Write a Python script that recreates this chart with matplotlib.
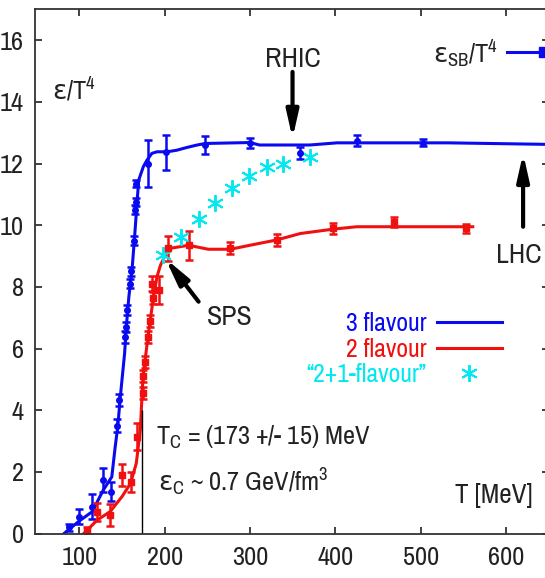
import matplotlib
matplotlib.use("Agg")
import matplotlib.pyplot as plt

plt.rcParams["font.family"] = ["Archivo Narrow", "DejaVu Sans"]
plt.rcParams["mathtext.fontset"] = "custom"
plt.rcParams["mathtext.rm"] = "Archivo Narrow"
plt.rcParams["mathtext.it"] = "Archivo Narrow"
plt.rcParams["mathtext.sf"] = "DejaVu Sans"
plt.rcParams["mathtext.default"] = "regular"

BLUE = "#0a0af0"
RED = "#f01010"
CYAN = "#00e8f0"
INK = "#222222"
EPS = r"$\mathsf{ε}$"

# 3 flavour lattice points (T [MeV], eps/T^4, error)
t3 = [87.5, 99, 115, 128, 137.5, 144, 147, 154, 155, 156, 159, 160.5, 163.6, 165.6, 166.5, 166,
      181, 202, 247.5, 299.5, 359, 425, 502.5]
e3 = [0.2, 0.55, 0.87, 1.74, 1.36, 3.5, 4.33, 6.38, 6.7, 7.25, 8.1, 8.5, 9.5, 10.5, 10.75, 11.35,
      12.0, 12.36, 12.6, 12.67, 12.33, 12.74, 12.68]
err3 = [0.1, 0.25, 0.4, 0.38, 0.3, 0.2, 0.2, 0.2, 0.15, 0.15, 0.15, 0.15, 0.15, 0.15, 0.12, 0.1,
        0.75, 0.57, 0.3, 0.17, 0.2, 0.17, 0.12]

# 3 flavour curve
t3_fit = [82, 99, 115, 128, 138, 142, 145, 148, 153, 155, 158, 162, 165, 167.5, 169.5, 175, 179, 185,
          191, 203, 214, 226, 238, 248, 300, 311, 370, 402, 532, 650]
e3_fit = [0, 0.39, 0.71, 1.41, 1.84, 2.82, 3.47, 4.44, 5.84, 6.7, 7.68, 8.65, 9.73, 10.7, 11.46, 11.9,
          12.1, 12.33, 12.38, 12.38, 12.43, 12.52, 12.6, 12.65, 12.68, 12.6, 12.6, 12.67, 12.67, 12.62]

# 2 flavour lattice points
t2 = [109, 121, 136, 150, 160.5, 167.5, 174.6, 175, 177.3, 180.4, 182.3, 185, 186.3, 193, 204,
      228, 276.8, 331.5, 397, 469, 553]
e2 = [0.1, 0.7, 0.6, 1.9, 1.68, 3.14, 4.55, 5.1, 5.57, 6.38, 6.9, 8.1, 7.63, 7.9, 9.25,
      9.35, 9.25, 9.52, 9.9, 10.1, 9.9]
err2 = [0.1, 0.3, 0.35, 0.35, 0.33, 0.43, 0.2, 0.2, 0.2, 0.2, 0.2, 0.25, 0.2, 0.45, 0.4,
        0.47, 0.2, 0.2, 0.18, 0.15, 0.15]

# 2 flavour curve
t2_fit = [105, 121, 136, 150, 160, 166.7, 171.4, 173.5, 174.6, 180.4, 186.3, 191, 195, 200.7, 206.6,
          228, 251, 277, 300, 331, 359, 397, 425, 561]
e2_fit = [0, 0.44, 0.71, 1.2, 1.63, 2.28, 3.36, 4.5, 5.09, 6.38, 7.57, 8.33, 8.7, 9.03, 9.25,
          9.35, 9.22, 9.22, 9.35, 9.52, 9.73, 9.87, 9.95, 9.95]

# "2+1 flavour" estimate
t21 = [198, 219, 240, 259, 279, 299, 320, 339, 370]
e21 = [9.03, 9.62, 10.2, 10.73, 11.2, 11.58, 11.89, 12.0, 12.2]

# Stefan-Boltzmann limit, critical temperature
eps_sb = 15.6
t_c = 173
t_c_line_top = 4.0

fig = plt.figure(figsize=(5.45, 5.78), dpi=100)
ax = fig.add_axes([35 / 545, 44.4 / 578, 513.7 / 545, 524.3 / 578])

ax.plot(t3_fit, e3_fit, color=BLUE, lw=2.2, label="3 flavour")
ax.errorbar(t3, e3, yerr=err3, fmt="o", color=BLUE, ms=4, elinewidth=1.8, capsize=3, capthick=1.8)

ax.plot(t2_fit, e2_fit, color=RED, lw=2.2, label="2 flavour")
ax.errorbar(t2, e2, yerr=err2, fmt="s", color=RED, ms=4, elinewidth=1.8, capsize=3, capthick=1.8)

ax.plot(t21, e21, ls="none", marker=(6, 2, 0), ms=12, mew=1.4, color=CYAN, label="\u201c2+1-flavour\u201d")

ax.vlines(t_c, 0, t_c_line_top, color="black", lw=1)

# SB key
ax.plot([601, 645], [eps_sb, eps_sb], color=BLUE, lw=2.2, marker="s", ms=7, markevery=[1], clip_on=False)
ax.text(590.6, 15.24, EPS + r"$_{SB}$/T$^4$", fontsize=19, color=INK, ha="right", va="baseline")

arrow = dict(arrowstyle="-|>,head_length=0.8,head_width=0.18", color="black", lw=3, mutation_scale=20,
             shrinkA=0, shrinkB=0)
ax.annotate("", xy=(349.8, 12.81), xytext=(349.8, 14.97), arrowprops=arrow)
ax.annotate("", xy=(620, 12.33), xytext=(620, 9.95), arrowprops=arrow)
ax.annotate("", xy=(200.7, 8.92), xytext=(239.7, 7.52), arrowprops=arrow)

ax.text(350.6, 15.13, "RHIC", fontsize=20, color=INK, ha="center", va="baseline")
ax.text(615.2, 8.77, "LHC", fontsize=20, color=INK, ha="center", va="baseline")
ax.text(249.9, 6.76, "SPS", fontsize=20, color=INK, ha="left", va="baseline")
ax.text(68.4, 14.05, EPS + r"/T$^4$", fontsize=19, color=INK, ha="left", va="baseline")
ax.text(190, 2.87, r"T$_C$ = (173 +/- 15) MeV", fontsize=19, color=INK, ha="left", va="baseline")
ax.text(192.5, 1.38, EPS + r"$_C$ ~ 0.7 GeV/fm$^3$", fontsize=19, color=INK, ha="left", va="baseline")
ax.text(540, 0.99, "T [MeV]", fontsize=19.5, color=INK, ha="left", va="baseline")

ax.legend(loc="center right", bbox_to_anchor=(0.9085, 0.352), frameon=False, markerfirst=False,
          alignment="right", fontsize=18.5, handlelength=2.53, handletextpad=0.39, labelspacing=0.1,
          borderpad=0, borderaxespad=0, labelcolor=[BLUE, RED, CYAN])

ax.set_xlim(48, 650)
ax.set_ylim(0, 17)
ax.set_xticks([100, 200, 300, 400, 500, 600])
ax.set_yticks([0, 2, 4, 6, 8, 10, 12, 14, 16])
ax.tick_params(direction="in", top=True, right=True, length=5, width=1.2, labelsize=19,
               colors=INK)
ax.tick_params(axis="x", pad=9)
ax.tick_params(axis="y", pad=8)
for s in ax.spines.values():
    s.set_color("#333333")
    s.set_linewidth(1.3)

fig.savefig("out.png", dpi=100)
